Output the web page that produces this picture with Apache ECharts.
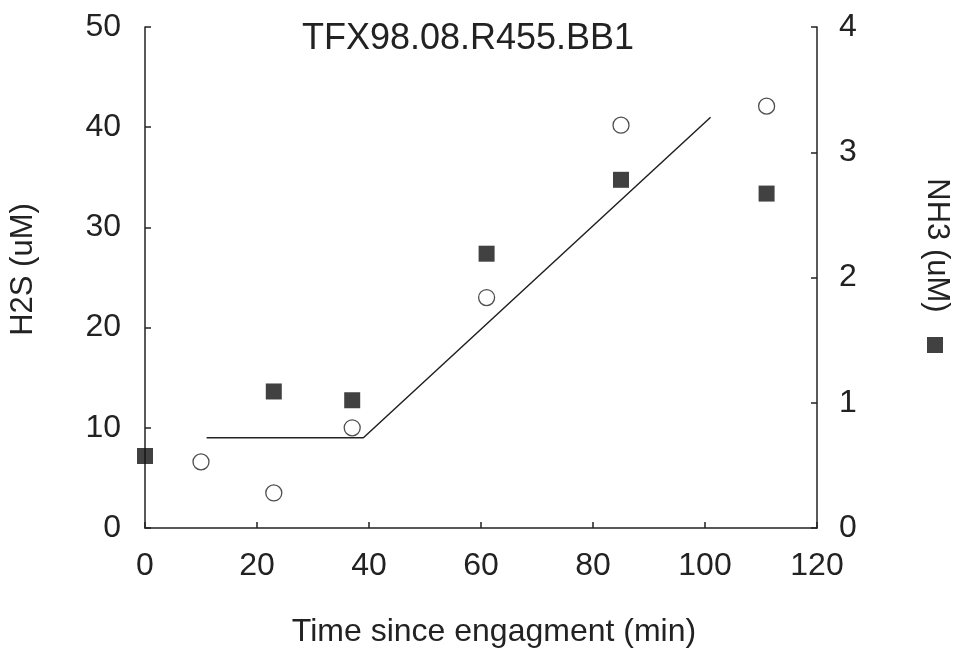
<!DOCTYPE html>
<html>
<head>
<meta charset="utf-8">
<script src="https://cdn.jsdelivr.net/npm/echarts@6/dist/echarts.min.js"></script>
<style>
html,body{margin:0;padding:0;background:#fff;overflow:hidden;}
#chart{width:953px;height:653px;}
</style>
</head>
<body>
<div id="chart"></div>
<script>
// H2S (open circles, left axis)
const h2sTime = [10, 23, 37, 61, 85, 111];
const h2sValue = [6.6, 3.5, 10.0, 23.0, 40.2, 42.1];
// NH3 (filled squares, right axis)
const nh3Time = [0, 23, 37, 61, 85, 111];
const nh3Value = [0.575, 1.09, 1.02, 2.19, 2.78, 2.67];
// Fitted line (left axis)
const fitTime = [11, 39, 101];
const fitValue = [9.0, 9.0, 41.0];

const fontFam = '"Liberation Sans", Arial, Helvetica, sans-serif';
const ink = '#222';

const chart = echarts.init(document.getElementById('chart'));
chart.setOption({
  backgroundColor: '#fff',
  animation: false,
  title: {
    text: 'TFX98.08.R455.BB1',
    left: 463, top: 16, textAlign: 'center',
    textStyle: {fontFamily: fontFam, fontSize: 36, fontWeight: 'normal', color: ink}
  },
  legend: {
    data: [{name: 'NH3', icon: 'rect'}],
    orient: 'vertical',
    left: 922, top: 332,
    itemWidth: 16, itemHeight: 16,
    formatter: function(){ return ''; },
    selectedMode: false,
    textStyle: {fontSize: 1}
  },
  grid: {left: 145, right: 136, top: 27, bottom: 125, containLabel: false, outerBoundsMode: 'none'},
  xAxis: {
    type: 'value', min: 0, max: 120, interval: 20,
    name: 'Time since engagment (min)', nameLocation: 'middle', nameGap: 88,
    nameTextStyle: {fontFamily: fontFam, fontSize: 32, color: ink, padding: [0, 0, 0, 26]},
    axisLine: {show: true, lineStyle: {color: ink, width: 1.5}},
    axisTick: {show: true, inside: true, length: 6, lineStyle: {color: ink, width: 1.5}},
    axisLabel: {fontFamily: fontFam, fontSize: 32, color: ink, margin: 22},
    splitLine: {show: false}
  },
  yAxis: [{
    type: 'value', min: 0, max: 50, interval: 10, position: 'left',
    name: 'H2S (uM)', nameLocation: 'middle', nameGap: 106, nameRotate: 90,
    nameTextStyle: {fontFamily: fontFam, fontSize: 31, color: ink, padding: [0, 0, 0, 16]},
    axisLine: {show: true, lineStyle: {color: ink, width: 1.5}},
    axisTick: {show: true, inside: true, length: 6, lineStyle: {color: ink, width: 1.5}},
    axisLabel: {fontFamily: fontFam, fontSize: 32, color: ink, margin: 24},
    splitLine: {show: false}
  }, {
    type: 'value', min: 0, max: 4, interval: 1, position: 'right',
    name: 'NH3 (uM)', nameLocation: 'middle', nameGap: 104, nameRotate: -90,
    nameTextStyle: {fontFamily: fontFam, fontSize: 31, color: ink, padding: [0, 64, 0, 0]},
    axisLine: {show: true, lineStyle: {color: ink, width: 1.5}},
    axisTick: {show: true, inside: true, length: 6, lineStyle: {color: ink, width: 1.5}},
    axisLabel: {fontFamily: fontFam, fontSize: 32, color: ink, margin: 22},
    splitLine: {show: false}
  }],
  series: [{
    name: 'Fit', type: 'line', yAxisIndex: 0,
    data: fitTime.map((t, i) => [t, fitValue[i]]),
    symbol: 'none', lineStyle: {color: ink, width: 1.5}, z: 2
  }, {
    name: 'H2S', type: 'scatter', yAxisIndex: 0,
    data: h2sTime.map((t, i) => [t, h2sValue[i]]),
    symbol: 'circle', symbolSize: 16,
    itemStyle: {color: '#fff', borderColor: ink, borderWidth: 1.3}, z: 3
  }, {
    name: 'NH3', type: 'scatter', yAxisIndex: 1,
    data: nh3Time.map((t, i) => [t, nh3Value[i]]),
    symbol: 'rect', symbolSize: 16,
    itemStyle: {color: '#111'}, z: 3
  }]
});
</script>
</body>
</html>
